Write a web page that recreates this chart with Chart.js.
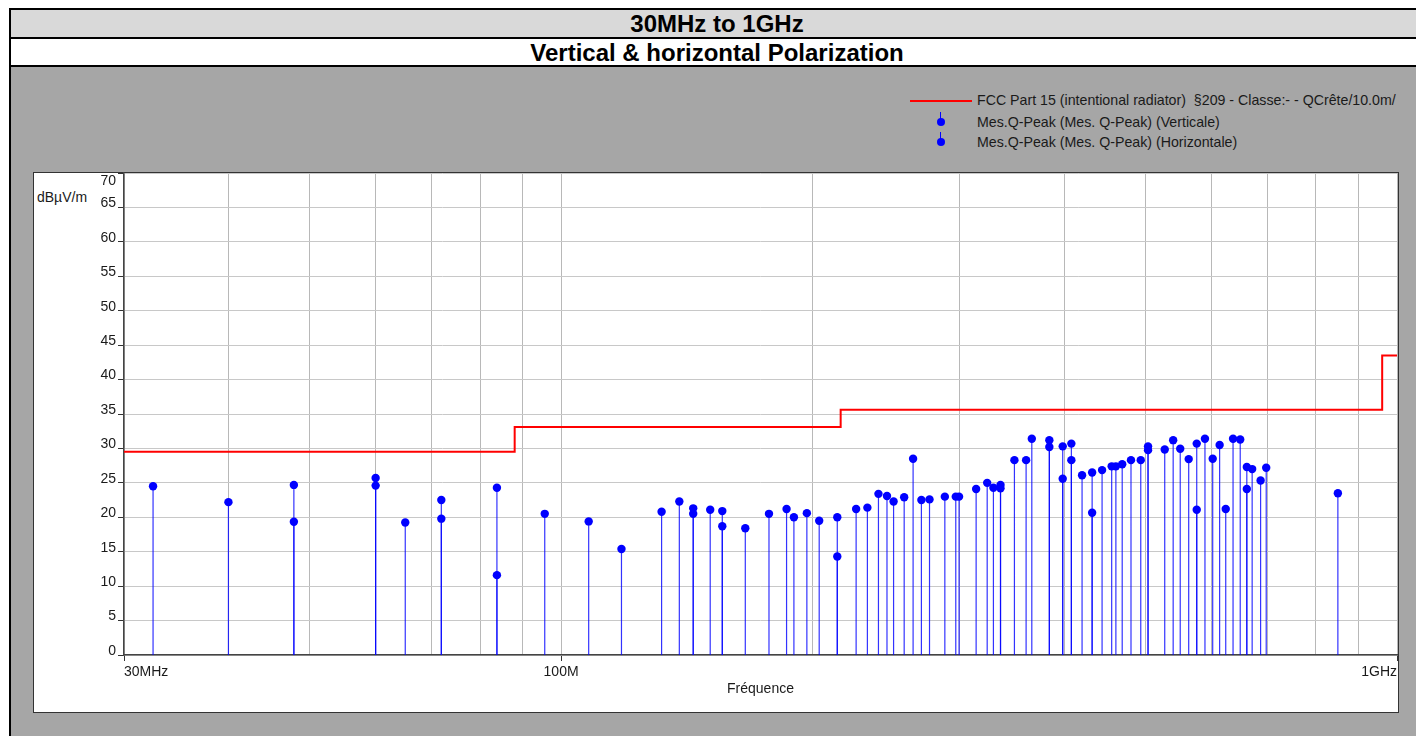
<!doctype html>
<html>
<head>
  <meta charset="utf-8">
  <title>30MHz to 1GHz</title>
  <script src="https://cdn.jsdelivr.net/npm/chart.js@4.4.1/dist/chart.umd.min.js"></script>
  <style>
    body{margin:0;width:1416px;height:736px;overflow:hidden;background:#fff;position:relative;
         font-family:Arial,"Liberation Sans",sans-serif;color:#1a1a1a;}
    #frame{position:absolute;left:9px;top:8px;width:1416px;height:740px;box-sizing:border-box;
           border:2px solid #000;background:#a6a6a6;}
    .band{position:absolute;left:0;right:0;text-align:center;font-weight:bold;font-size:24px;
          color:#000;border-bottom:2px solid #000;}
    #band1{top:0;height:27px;line-height:28px;background:#d9d9d9;}
    #band2{top:29px;height:26px;line-height:27px;background:#fff;}
    #box{position:absolute;left:33px;top:172px;width:1366px;height:541px;box-sizing:border-box;
         background:#fff;border:1px solid #333;}
    #chartWrap{position:absolute;left:33px;top:150px;width:1367px;height:562px;}
    .leg{position:absolute;left:977px;font-size:14.2px;line-height:16px;white-space:nowrap;color:#1a1a1a;}
    .stem{position:absolute;left:940px;width:1px;height:8px;background:#0000ff;}
    .dot{position:absolute;left:937px;width:8px;height:8px;border-radius:50%;background:#0000ff;}
    #unit{position:absolute;left:37px;top:189px;font-size:14px;line-height:16px;}
  </style>
</head>
<body>

<div id="frame">
  <div class="band" id="band1">30MHz to 1GHz</div>
  <div class="band" id="band2">Vertical &amp; horizontal Polarization</div>
</div>

<!-- legend -->
<div style="position:absolute;left:910px;top:100px;width:62px;height:2px;background:#ff0000;"></div>
<div class="leg" style="top:92px;">FCC Part 15 (intentional radiator)&nbsp; §209 - Classe:- - QCrête/10.0m/</div>
<div class="stem" style="top:112px;"></div><div class="dot" style="top:118px;"></div>
<div class="leg" style="top:114px;">Mes.Q-Peak (Mes. Q-Peak) (Verticale)</div>
<div class="stem" style="top:132px;"></div><div class="dot" style="top:138px;"></div>
<div class="leg" style="top:134px;">Mes.Q-Peak (Mes. Q-Peak) (Horizontale)</div>

<div id="box"></div>
<div id="unit">dBµV/m</div>
<div id="chartWrap"><canvas id="emc"></canvas></div>

<script>
// ---- data (MHz / dBµV/m) ----
const limitFreq  = [30, 88, 216, 960, 1000];
const limitLevel = [29.5, 33.1, 35.6, 43.5, 43.5];

const vertFreq  = [32.5, 47.9, 60, 71.9, 83.8, 95.6, 118.1, 138.5, 143.9, 155.9, 177.3, 189.9, 203.6, 214,
                   232.5, 245.4, 257.3, 269.8, 287.8, 299.3, 323.4, 335.5, 360, 383.8, 398.2, 407.8, 431.8,
                   455.7, 469.1, 493.7, 503.7, 539.8, 563.4, 576, 601.9, 623.9, 649.3, 661.2, 686.8, 849.7];
const vertLevel = [24.5, 24.7, 25.7, 22.5, 24.3, 20.5, 15.4, 22.3, 21.3, 20.9, 20.5, 20.0, 19.5, 20.0,
                   21.4, 23.1, 22.9, 22.5, 23.0, 23.0, 25.0, 24.7, 28.3, 31.2, 30.3, 30.7, 26.5,
                   27.4, 27.7, 28.3, 30.3, 31.2, 28.45, 30.7, 28.5, 21.2, 31.3, 27.3, 25.35, 23.5];

const horizFreq  = [40, 47.9, 60, 65.1, 71.9, 83.8, 107.9, 131.9, 143.9, 150.8, 155.9, 166.1, 186.1, 196.8,
                    214, 225.4, 239.7, 249.9, 263.7, 275.9, 296.6, 313.7, 329, 335.5, 348.6, 365.7, 383.8,
                    398.2, 407.8, 420, 431.8, 443.8, 461, 480.6, 503.7, 527.4, 550.4, 576, 589.2, 613.5,
                    636.6, 661.2, 671, 697.5];
const horizLevel = [22.2, 19.35, 24.6, 19.25, 19.8, 11.6, 19.4, 20.8, 20.5, 21.1, 18.7, 18.4, 21.2, 20.6,
                    14.3, 21.2, 23.4, 22.3, 28.5, 22.6, 23.0, 24.1, 24.3, 24.2, 28.3, 31.4, 30.2,
                    25.6, 28.3, 26.1, 20.65, 26.85, 27.4, 28.3, 29.75, 29.85, 29.95, 21.1, 31.4, 30.5,
                    31.4, 24.1, 27.0, 27.2];

// axis ticks
const xGridValues  = [30, 40, 50, 60, 70, 80, 90, 100, 200, 300, 400, 500, 600, 700, 800, 900, 1000];
const xLabelValues = [30, 100, 1000];
const xLabelTexts  = ['30MHz', '100M', '1GHz'];
const yTopLabel = 70;

// ---- helpers ----
const points = (f, v) => f.map((x, i) => ({x, y: v[i]}));
const stems  = (f, v) => f.flatMap((x, i) => [{x, y: 0}, {x, y: v[i]}, {x, y: null}]);

Chart.defaults.font.family = 'Arial, "Liberation Sans", sans-serif';
Chart.defaults.font.size = 14;
Chart.defaults.color = '#1a1a1a';

// "70" sits inside the box in the original, below its gridline
const topLabel = {
  id: 'topLabel',
  afterDraw(chart) {
    const {ctx, scales: {y}} = chart;
    ctx.save();
    ctx.font = '14px Arial, "Liberation Sans", sans-serif';
    ctx.fillStyle = '#1a1a1a';
    ctx.textAlign = 'right';
    ctx.textBaseline = 'middle';
    ctx.fillText(String(yTopLabel), y.right - 8, y.getPixelForValue(yTopLabel) + 8);
    ctx.restore();
  }
};

new Chart(document.getElementById('emc'), {
  type: 'line',
  data: {
    datasets: [
      { label: 'FCC Part 15', data: points(limitFreq, limitLevel), stepped: 'before',
        borderColor: '#ff0000', borderWidth: 2, pointRadius: 0, order: 0 },
      { label: 'V', type: 'scatter', data: points(vertFreq, vertLevel), showLine: false,
        backgroundColor: '#0000ff', borderWidth: 0, pointRadius: 4.2, order: 1 },
      { label: 'H', type: 'scatter', data: points(horizFreq, horizLevel), showLine: false,
        backgroundColor: '#0000ff', borderWidth: 0, pointRadius: 4.2, order: 1 },
      { label: 'V stems', data: stems(vertFreq, vertLevel), spanGaps: false,
        borderColor: 'rgba(0,0,255,0.8)', borderWidth: 1.2, pointRadius: 0, order: 2 },
      { label: 'H stems', data: stems(horizFreq, horizLevel), spanGaps: false,
        borderColor: 'rgba(0,0,255,0.8)', borderWidth: 1.2, pointRadius: 0, order: 2 }
    ]
  },
  options: {
    responsive: true,
    maintainAspectRatio: false,
    animation: false,
    layout: { autoPadding: false, padding: { top: 23, left: 0, right: 0, bottom: 0 } },
    plugins: { legend: { display: false }, tooltip: { enabled: false } },
    scales: {
      x: {
        type: 'logarithmic', min: 30, max: 1000,
        afterBuildTicks: s => { s.ticks = xGridValues.map(v => ({value: v})); },
        afterFit: s => { s.height = 57; },
        ticks: {
          autoSkip: false, maxRotation: 0, align: 'inner', padding: 3,
          callback: v => { const i = xLabelValues.indexOf(v); return i < 0 ? '' : xLabelTexts[i]; }
        },
        grid: { color: '#b8b8b8', lineWidth: 1, tickLength: 6,
                tickColor: c => xLabelValues.includes(c.tick && c.tick.value) ? '#333' : 'rgba(0,0,0,0)' },
        border: { color: '#444', width: 1.5 },
        title: { display: true, text: 'Fréquence', padding: { top: 0, bottom: 14 } }
      },
      y: {
        min: 0, max: 70,
        afterFit: s => { s.width = 91; },
        ticks: { stepSize: 5, padding: 2, labelOffset: -4,
                 callback: v => v === yTopLabel ? '' : v },
        grid: { color: '#c8c8c8', lineWidth: 1, tickLength: 6, tickColor: '#333' },
        border: { color: '#444', width: 1.5 }
      }
    }
  },
  plugins: [topLabel]
});
</script>
</body>
</html>
